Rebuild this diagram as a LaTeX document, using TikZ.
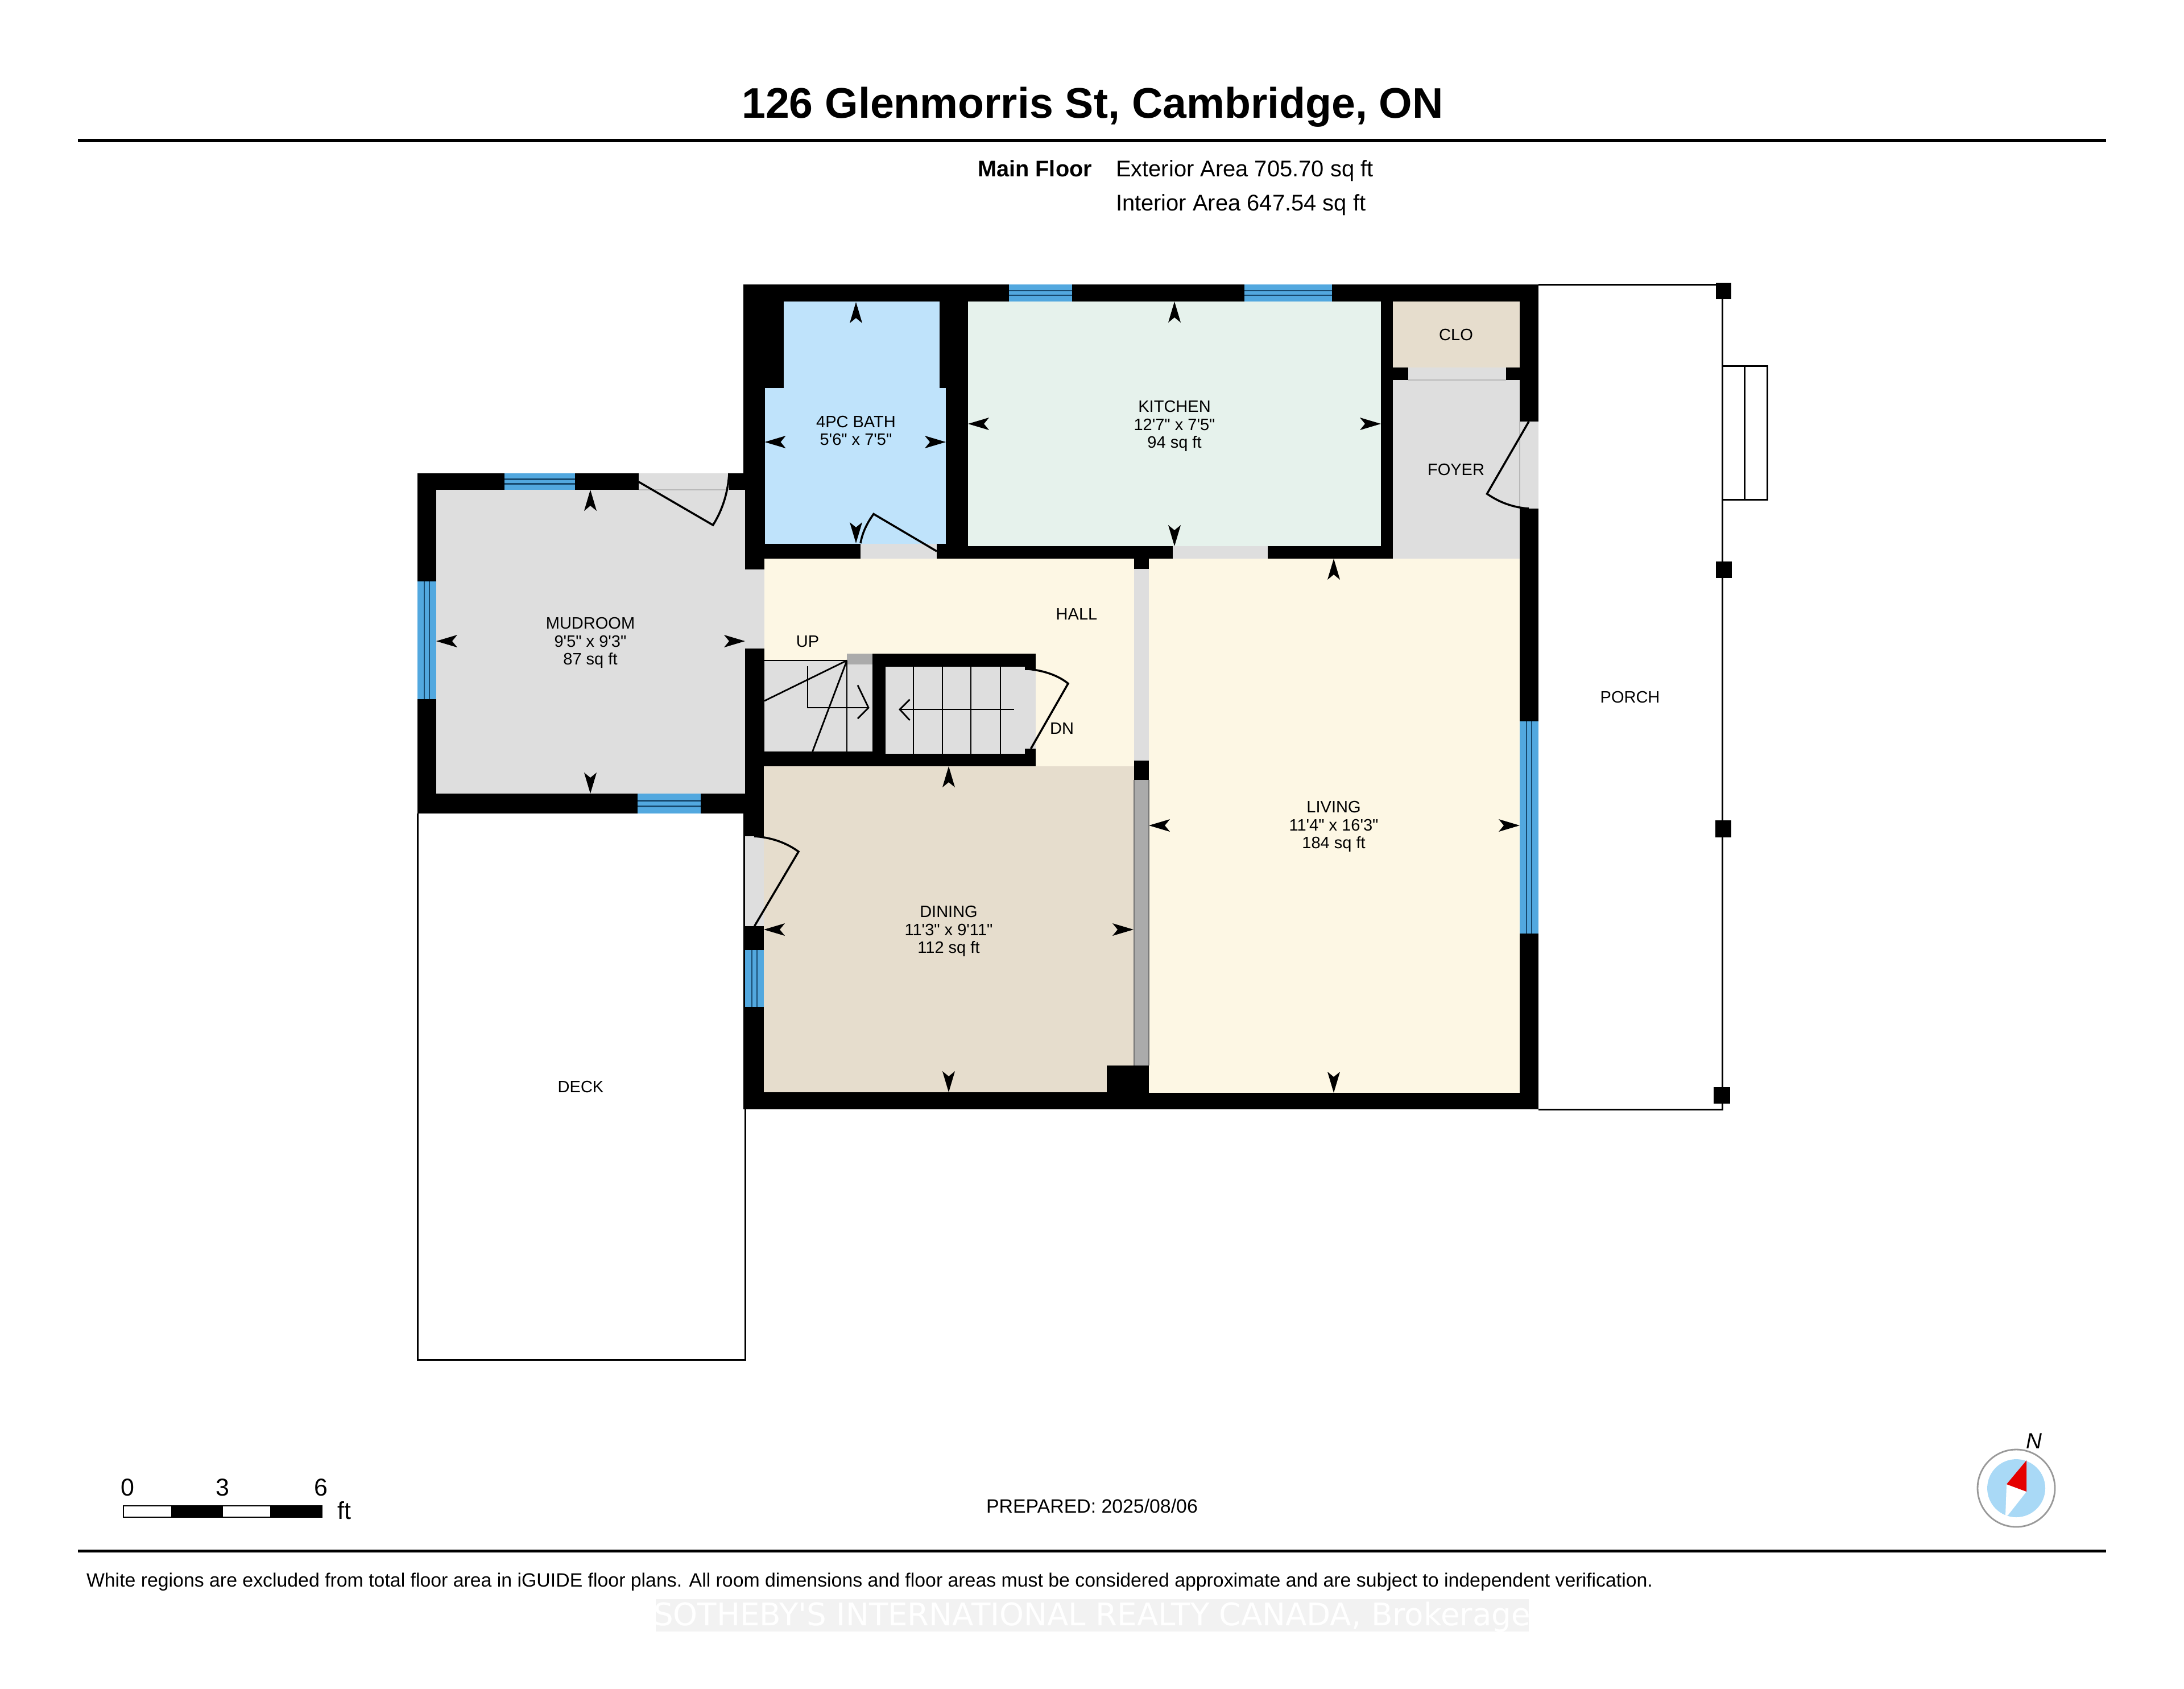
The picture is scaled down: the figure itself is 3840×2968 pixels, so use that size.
\documentclass[tikz,border=0pt]{standalone}
\usepackage{fontspec}
\newfontfamily\arialfont{Liberation Sans}
\newfontfamily\wmfont{DejaVu Sans}
\definecolor{wallc}{HTML}{000000}
\definecolor{greyroom}{HTML}{DEDEDE}
\definecolor{bathc}{HTML}{BFE3FB}
\definecolor{kitchenc}{HTML}{E6F2EC}
\definecolor{creamc}{HTML}{FDF7E4}
\definecolor{diningc}{HTML}{E6DDCD}
\definecolor{winc}{HTML}{52A8DF}
\definecolor{winl}{HTML}{17496E}
\definecolor{darkgrey}{HTML}{ABABAB}
\definecolor{compblue}{HTML}{A9D9F6}
\newcommand{\hwin}[4]{%
  \fill[winc] (#1,#2) rectangle (#3,#4);
  \pgfmathsetmacro{\wa}{#2+0.36*(#4-#2)}\pgfmathsetmacro{\wb}{#2+0.64*(#4-#2)}
  \draw[winline] (#1,\wa) -- (#3,\wa) (#1,\wb) -- (#3,\wb);}
\newcommand{\vwin}[4]{%
  \fill[winc] (#1,#2) rectangle (#3,#4);
  \pgfmathsetmacro{\wa}{#1+0.36*(#3-#1)}\pgfmathsetmacro{\wb}{#1+0.64*(#3-#1)}
  \draw[winline] (\wa,#2) -- (\wa,#4) (\wb,#2) -- (\wb,#4);}
\tikzset{
  winline/.style={draw=winl,line width=0.7pt},
  doorleaf/.style={draw=black,line width=1pt,line join=miter},
  thinline/.style={draw=black,line width=0.85pt},
  treadline/.style={draw=black,line width=0.8pt},
  stairarrow/.style={draw=black,line width=0.8pt},
  sill/.style={draw=black!28,line width=0.5pt},
  lbl/.style={inner sep=0pt,outer sep=0pt,align=center,font=\arialfont\fontsize{8.25}{8.96}\selectfont},
  info/.style={inner sep=0pt,outer sep=0pt,font=\arialfont\fontsize{11.35}{13}\selectfont},
  small/.style={inner sep=0pt,outer sep=0pt,font=\arialfont\fontsize{9.62}{12}\selectfont},
  scalelbl/.style={inner sep=0pt,outer sep=0pt,font=\arialfont\fontsize{12.2}{14}\selectfont},
  dimtip/.pic={\fill[black] (0,0) -- (-37,-11) -- (-28,0) -- (-37,11) -- cycle;},
  postsq/.style={fill=black}
}
\begin{document}
\begin{tikzpicture}[x=0.01cm,y=-0.01cm]
\useasboundingbox (0,0) rectangle (3840,2968);
\fill[white] (0,0) rectangle (3840,2968);
% title and rules
\node[inner sep=0pt,font=\arialfont\bfseries\fontsize{21.4}{26}\selectfont] (title) at (1921,188) {126 Glenmorris St, Cambridge, ON};
\fill[black] (137,244) rectangle (3703,250);
\fill[black] (137,2724) rectangle (3703,2729);
\node[info,anchor=mid east,font=\arialfont\bfseries\fontsize{11.3}{13}\selectfont] (mainfloor) at (1920,303) {Main Floor};
\node[info,anchor=mid west] (extarea) at (1962,303) {Exterior Area 705.70 sq ft};
\node[info,anchor=mid west] (intarea) at (1962,363) {Interior Area 647.54 sq ft};
% deck and porch outlines
\draw[thinline] (734,1430) -- (734,2390) -- (1310,2390) -- (1310,1950);
\draw[thinline] (2705,500) -- (3028,500) -- (3028,1950) -- (2705,1950);
\draw[thinline] (3028,643) rectangle (3107,878);
\draw[thinline] (3067,643) -- (3067,878);
\fill[postsq] (3017,497) rectangle (3044,526);
\fill[postsq] (3017,987) rectangle (3045,1016);
\fill[postsq] (3016,1442) rectangle (3044,1472);
\fill[postsq] (3013,1911) rectangle (3042,1940);
% wall footprint
\fill[wallc] (1307,500) rectangle (2705,1950);
\fill[wallc] (734,832) rectangle (1310,1430);
% rooms
\fill[greyroom] (767,861) rectangle (1310,1395);
\fill[bathc] (1377.5,530) rectangle (1652,690);
\fill[bathc] (1344.5,681.5) rectangle (1663,955.5);
\fill[kitchenc] (1702,530) rectangle (2428,960);
\fill[diningc] (2449,530) rectangle (2672,646);
\fill[greyroom] (2449,668) rectangle (2672,982);
\fill[creamc] (1344,982) rectangle (1994,1347);
\fill[creamc] (2020,982) rectangle (2672,1921);
\fill[diningc] (1343,1347) rectangle (1994,1920);
% block in dining corner and wall stubs
\fill[wallc] (1946,1873) rectangle (2020,1950);
% stair box
\fill[wallc] (1534,1149) rectangle (1821,1347);
\fill[wallc] (1344,1321) rectangle (1821,1347);
\fill[greyroom] (1344,1161) rectangle (1534,1321);
\fill[darkgrey] (1489,1149) rectangle (1534,1168);
\fill[greyroom] (1557,1172) rectangle (1802,1325);
\fill[greyroom] (1802,1178) rectangle (1821,1316);
\draw[treadline] (1344,1161) -- (1489,1161);
\draw[treadline] (1489,1161) -- (1489,1321);
\draw[treadline] (1489,1161) -- (1344,1232);
\draw[treadline] (1489,1161) -- (1428.6,1321);
\foreach \tx in {1606,1657,1707,1759} {\draw[treadline] (\tx,1172) -- (\tx,1325);}
\draw[stairarrow] (1420,1171) -- (1420,1244) -- (1527,1244);
\draw[stairarrow] (1508,1204.5) -- (1527,1244) -- (1508,1263);
\draw[stairarrow] (1782.5,1247) -- (1582,1247);
\draw[stairarrow] (1599.5,1229.6) -- (1582,1247) -- (1599.5,1266);
% openings between walls
\fill[greyroom] (1994,1000) rectangle (2020,1337);
\fill[darkgrey] (1994,1371) rectangle (2020,1873);
\draw[draw=black!55,line width=0.5pt] (1994,1371) -- (1994,1873) (2020,1371) -- (2020,1873);
\fill[greyroom] (1310,1001) rectangle (1344,1140);
\fill[greyroom] (2062,960) rectangle (2229,982);
\fill[greyroom] (1513,955.5) rectangle (1647,982);
\fill[greyroom] (2475.5,646) rectangle (2648,668);
\draw[sill] (2475.5,668) -- (2648,668);
\fill[greyroom] (2672,741) rectangle (2705,894);
\draw[sill] (2672,741) -- (2672,894);
\fill[greyroom] (1123,832) rectangle (1282,861);
\draw[sill] (1123,861) -- (1282,861);
\fill[greyroom] (1310,1470) rectangle (1343,1628);
% windows
\hwin{887}{832}{1011}{861}
\vwin{734}{1022}{767}{1229}
\hwin{1121}{1395}{1232}{1430}
\vwin{1310}{1670}{1343}{1770}
\hwin{1774}{500}{1885}{530}
\hwin{2187.5}{500}{2341.6}{530}
\vwin{2672}{1268}{2705}{1641}
% door leaves
\draw[doorleaf] (1123,847) -- (1253.6,923) .. controls (1270,897) and (1280,866) .. (1282,832);
\draw[doorleaf] (1647,969) -- (1536,903.5) .. controls (1524,920) and (1516,937) .. (1513,955);
\draw[doorleaf] (2688,741) -- (2614.5,868) .. controls (2636,883) and (2660,892) .. (2688,894);
\draw[doorleaf] (1326.5,1628) -- (1404,1497) .. controls (1382,1481) and (1356,1472) .. (1326,1470);
\draw[doorleaf] (1812.5,1316) -- (1878,1201.5) .. controls (1860,1187) and (1836,1179) .. (1808,1176);
% dimension arrowheads
\pic[rotate=90] at (1038,861) {dimtip};
\pic[rotate=270] at (1038,1395) {dimtip};
\pic[rotate=180] at (767,1127) {dimtip};
\pic at (1310,1127) {dimtip};
\pic[rotate=90] at (1505,531) {dimtip};
\pic[rotate=270] at (1505,955) {dimtip};
\pic[rotate=180] at (1344.5,777) {dimtip};
\pic at (1663,777) {dimtip};
\pic[rotate=90] at (2065,530) {dimtip};
\pic[rotate=270] at (2065,960) {dimtip};
\pic[rotate=180] at (1702,745) {dimtip};
\pic at (2428,745) {dimtip};
\pic[rotate=90] at (2345,982) {dimtip};
\pic[rotate=270] at (2345,1921) {dimtip};
\pic[rotate=180] at (2020,1451) {dimtip};
\pic at (2672,1451) {dimtip};
\pic[rotate=90] at (1668,1347) {dimtip};
\pic[rotate=270] at (1668,1920) {dimtip};
\pic[rotate=180] at (1343,1634) {dimtip};
\pic at (1993,1634) {dimtip};
% room labels
\node[lbl] (mudroom) at (1038,1130) {MUDROOM\\9'5" x 9'3"\\87 sq ft};
\node[lbl] (bath) at (1505,757) {4PC BATH\\5'6" x 7'5"};
\node[lbl] (kitchen) at (2065,749) {KITCHEN\\12'7" x 7'5"\\94 sq ft};
\node[lbl] (dining) at (1668,1637) {DINING\\11'3" x 9'11"\\112 sq ft};
\node[lbl] (living) at (2345,1453) {LIVING\\11'4" x 16'3"\\184 sq ft};
\node[lbl] (hall) at (1893,1079.5) {HALL};
\node[lbl] (up) at (1420,1128) {UP};
\node[lbl] (dn) at (1867,1280) {DN};
\node[lbl] (clo) at (2560,588) {CLO};
\node[lbl] (foyer) at (2560,825) {FOYER};
\node[lbl] (porch) at (2866,1225) {PORCH};
\node[lbl] (deck) at (1021,1910) {DECK};
% scale bar
\fill[white] (217,2647) rectangle (566,2667);
\fill[black] (301,2647) rectangle (392,2667);
\fill[black] (475,2647) rectangle (566,2667);
\draw[black,line width=0.6pt] (217,2647) rectangle (566,2667);
\node[scalelbl] (s0) at (224,2615) {0};
\node[scalelbl] (s3) at (391,2615) {3};
\node[scalelbl] (s6) at (564,2615) {6};
\node[scalelbl] (sft) at (605,2655) {ft};
\node[small] (prepared) at (1920,2647) {PREPARED: 2025/08/06};
\node[small,anchor=mid west] (disclaimer) at (152,2782) {White regions are excluded from total floor area in iGUIDE floor plans. All room dimensions and floor areas must be considered approximate and are subject to independent verification.};
% watermark
\fill[black!5] (1153,2811) rectangle (2688,2868);
\node[inner sep=0pt,text=white,font=\wmfont\fontsize{15.55}{18}\selectfont] (wm) at (1920,2842) {SOTHEBY'S INTERNATIONAL REALTY CANADA, Brokerage};
% compass
\fill[white] (3545,2616) circle (68);
\draw[black!40,line width=0.8pt] (3545,2616) circle (68);
\fill[compblue] (3545,2616) circle (51);
\fill[white] (3528,2609) -- (3563,2622) -- (3530,2664) -- (3526,2664) -- cycle;
\fill[red!90!black] (3563,2567) -- (3528,2609) -- (3563,2622) -- cycle;
\node[inner sep=0pt,font=\arialfont\itshape\fontsize{11}{13}\selectfont] (north) at (3576,2533) {N};
\end{tikzpicture}
\end{document}
